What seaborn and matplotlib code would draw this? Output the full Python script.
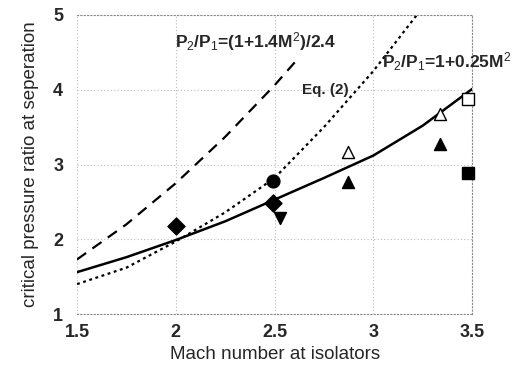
import seaborn as sns
import pandas as pd
import matplotlib.pyplot as plt

# curves
mach_solid = [1.5, 1.75, 2.0, 2.25, 2.5, 2.75, 3.0, 3.25, 3.5]
ratio_solid = [1.56, 1.76, 1.99, 2.24, 2.53, 2.82, 3.12, 3.52, 4.01]

mach_dashed = [1.5, 1.75, 2.0, 2.25, 2.5, 2.61]
ratio_dashed = [1.73, 2.20, 2.75, 3.37, 4.06, 4.39]

mach_eq2 = [1.5, 1.75, 2.0, 2.25, 2.5, 2.75, 3.0, 3.22]
ratio_eq2 = [1.40, 1.62, 1.97, 2.36, 2.82, 3.50, 4.25, 5.0]

# experimental points
pt_mach = [2.0, 2.49, 2.49, 2.525, 2.874, 2.874, 3.335, 3.335, 3.48, 3.48]
pt_ratio = [2.18, 2.78, 2.49, 2.29, 3.17, 2.77, 3.68, 3.27, 3.88, 2.89]
pt_marker = ['D', 'o', 'D', 'v', '^', '^', '^', '^', 's', 's']
pt_filled = [True, True, True, True, False, True, False, True, False, True]

x_ticks = [1.5, 2, 2.5, 3, 3.5]
x_ticklabels = ['1.5', '2', '2.5', '3', '3.5']
y_ticks = [1, 2, 3, 4, 5]


def main():
    sns.set_style('white')
    plt.rcParams['font.family'] = ['Liberation Sans', 'DejaVu Sans']
    plt.rcParams['mathtext.fontset'] = 'custom'
    plt.rcParams['mathtext.rm'] = 'Liberation Sans'
    plt.rcParams['mathtext.it'] = 'Liberation Sans'

    fig = plt.figure(figsize=(5.24, 3.71), dpi=100)
    ax = fig.add_axes([0.147, 0.1536, 0.754, 0.806])

    sns.lineplot(x=mach_solid, y=ratio_solid, color='black', lw=1.8, ax=ax)
    sns.lineplot(x=mach_dashed, y=ratio_dashed, color='black', lw=1.6,
                 ax=ax).lines[-1].set_dashes([5, 3.5])
    sns.lineplot(x=mach_eq2, y=ratio_eq2, color='black', lw=1.6,
                 ax=ax).lines[-1].set_dashes([1.3, 1.6])

    df = pd.DataFrame({'M': pt_mach, 'r': pt_ratio, 'm': pt_marker, 'f': pt_filled})
    for _, row in df.iterrows():
        size = 75 if row['m'] != 'o' else 85
        sns.scatterplot(x=[row['M']], y=[row['r']], marker=row['m'], s=size,
                        color='black' if row['f'] else 'white',
                        edgecolor='black', linewidth=1.0, ax=ax, zorder=5)
    for coll in ax.collections:
        coll.set_clip_on(False)

    ax.text(1.996, 4.64, r'P$_2$/P$_1$=(1+1.4M$^2$)/2.4', fontsize=12.5,
            fontweight='bold', va='center')
    ax.text(2.64, 4.0, 'Eq. (2)', fontsize=11, fontweight='bold', va='center')
    ax.text(3.044, 4.37, r'P$_2$/P$_1$=1+0.25M$^2$', fontsize=12.5,
            fontweight='bold', va='center', clip_on=False)

    ax.set_xlim(1.5, 3.5)
    ax.set_ylim(1, 5)
    ax.set_xticks(x_ticks)
    ax.set_xticklabels(x_ticklabels)
    ax.set_yticks(y_ticks)
    ax.tick_params(length=0, labelsize=13)
    ax.tick_params(axis='x', pad=7)
    ax.tick_params(axis='y', pad=10)
    for lab in ax.get_xticklabels() + ax.get_yticklabels():
        lab.set_fontweight('bold')
    ax.grid(True, color='#bbbbbb', linestyle=(0, (1, 2)), lw=0.8)
    for side in ['top', 'right', 'bottom']:
        ax.spines[side].set_color('#888888')
        ax.spines[side].set_linestyle((0, (1, 2)))
        ax.spines[side].set_linewidth(0.8)
    ax.spines['left'].set_visible(False)

    ax.set_xlabel('Mach number at isolators', fontsize=13.5, labelpad=4)
    ax.set_ylabel('critical pressure ratio at seperation', fontsize=13.5, labelpad=10)

    fig.savefig('out.png', dpi=100)


if __name__ == '__main__':
    main()
